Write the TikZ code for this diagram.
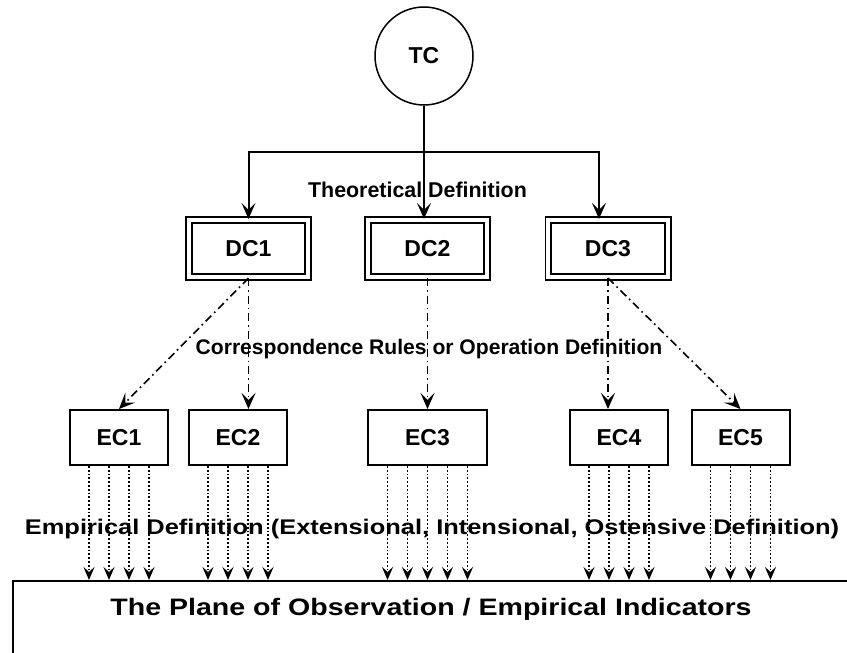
\documentclass[tikz,border=0pt]{standalone}
\usepackage{fontspec}
\setmainfont{Liberation Sans}
\newfontfamily\widesans[FakeStretch=1.2]{Liberation Sans}
\usetikzlibrary{arrows.meta}

\begin{document}
\begin{tikzpicture}[x=0.5pt,y=-0.5pt,
    >={Stealth[length=8pt,width=7pt,inset=3.5pt]},
    lab/.style={font=\bfseries\fontsize{11.5}{13}\selectfont},
    dcbox/.style={lab,draw,line width=0.9pt,double,double distance=2pt,minimum width=59.7pt,minimum height=28.7pt,inner sep=0pt},
    ecbox/.style={lab,draw,line width=1pt,minimum width=49pt,minimum height=27.5pt,inner sep=0pt},
    defarrow/.style={->,line width=1pt},
    rulearrow/.style={->,line width=0.8pt,dash pattern=on 4pt off 2pt on 0.8pt off 2pt},
    obsarrow/.style={-{Stealth[length=6.5pt,width=5.5pt,inset=2.5pt]},line width=0.9pt,densely dotted}]
      \useasboundingbox (0,0) rectangle (847,653);
      \node[lab,draw,circle,line width=0.75pt,minimum size=49pt,inner sep=0pt] (TC) at (424,56) {TC};
      \node[dcbox] (DC1) at (248.5,248.5) {DC1};
      \node[dcbox] (DC2) at (427.5,248.5) {DC2};
      \node[dcbox] (DC3) at (608,248.5) {DC3};
      \node[ecbox] (EC1) at (119,437.5) {EC1};
      \node[ecbox] (EC2) at (238,437.5) {EC2};
      \node[ecbox,minimum width=59.5pt] (EC3) at (427.5,437.5) {EC3};
      \node[ecbox] (EC4) at (619,437.5) {EC4};
      \node[ecbox] (EC5) at (740.5,437.5) {EC5};
      \node[draw,line width=1pt,anchor=north west,minimum width=450pt,minimum height=50pt] (plane) at (12,580) {};
      \coordinate (bar) at (424,152);
      \draw[defarrow] (TC.south) -- (TC.south |- DC2.north);
      \draw[defarrow] (bar) -| (DC1.north);
      \draw[defarrow] (bar) -| ([xshift=-4.5pt]DC3.north);
      \draw[rulearrow] (DC1.south) -- (EC1.north);
      \draw[rulearrow] (DC1.south) -- (DC1.south |- EC2.north);
      \draw[rulearrow] (DC2.south) -- (EC3.north);
      \draw[rulearrow] (DC3.south) -- (DC3.south |- EC4.north);
      \draw[rulearrow] (DC3.south) -- (EC5.north);
      \foreach \n in {1,2,4,5}
        \foreach \d in {-15,-5,5,15}
          \draw[obsarrow] ([xshift=\d pt]EC\n.south) -- ([xshift=\d pt]EC\n.south |- plane.north);
      \foreach \d in {-20,-10,0,10,20}
        \draw[obsarrow] ([xshift=\d pt]EC3.south) -- ([xshift=\d pt]EC3.south |- plane.north);
      \node[font=\bfseries\fontsize{10.7}{12}\selectfont] (theo) at (417.5,190) {Theoretical Definition};
      \node[font=\bfseries\fontsize{10.55}{12}\selectfont] (corr) at (429,349) {Correspondence Rules or Operation Definition};
      \node[font=\widesans\bfseries\fontsize{10.6}{12}\selectfont] (emp) at (432,529) {Empirical Definition (Extensional, Intensional, Ostensive Definition)};
      \node[font=\widesans\bfseries\fontsize{11.9}{14}\selectfont] (obs) at (431,609) {The Plane of Observation / Empirical Indicators};
\end{tikzpicture}
\end{document}
